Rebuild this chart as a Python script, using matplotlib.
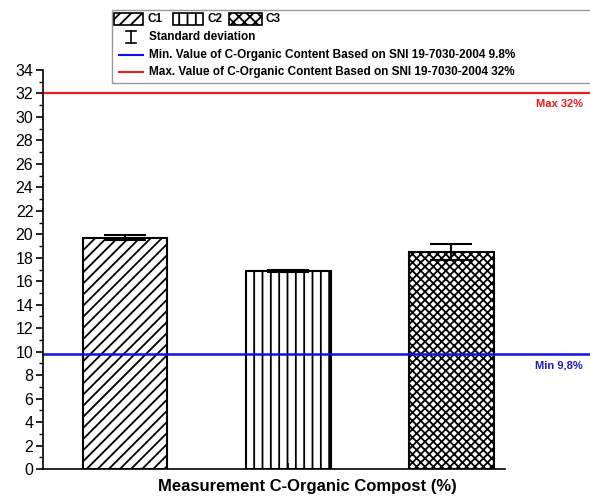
import matplotlib
matplotlib.use('Agg')
import matplotlib.pyplot as plt
from matplotlib.patches import Rectangle
from matplotlib.lines import Line2D
from matplotlib.ticker import MultipleLocator

# C-organic content of the three compost treatments (%)
labels = ['C1', 'C2', 'C3']
values = [19.7, 16.9, 18.5]
errors = [0.2, 0.1, 0.7]
hatches = ['///', '||', 'xxxx']
positions = [1, 2, 3]

# SNI 19-7030-2004 limits
sni_min = 9.8
sni_max = 32

plt.rcParams['font.family'] = 'Liberation Sans'
plt.rcParams['hatch.linewidth'] = 1.3

W, H = 590, 497
fig = plt.figure(figsize=(W / 100, H / 100), dpi=100)


def fx(px):
    return px / W


def fy(py):
    return 1 - py / H


ax = fig.add_axes([fx(43), fy(469), 462 / W, 399 / H])

for xpos, val, err, hat in zip(positions, values, errors, hatches):
    ax.bar(xpos, val, width=0.52, facecolor='white', edgecolor='black',
           hatch=hat, linewidth=1.5, yerr=err, capsize=15,
           error_kw=dict(elinewidth=1.5, capthick=1.5, ecolor='black'))

ax.set_xlim(0.497, 3.33)
ax.set_ylim(0, 34)
ax.set_yticks(range(0, 35, 2))
ax.yaxis.set_minor_locator(MultipleLocator(1))
ax.tick_params(axis='y', which='major', direction='out', length=5, width=1.2,
               labelsize=11.5, pad=2)
ax.tick_params(axis='y', which='minor', direction='out', length=3, width=1.0)
ax.set_xticks([2])
ax.set_xticklabels([''])
ax.tick_params(axis='x', direction='in', length=4, width=1.2)
for side in ['top', 'right']:
    ax.spines[side].set_visible(False)
for side in ['left', 'bottom']:
    ax.spines[side].set_linewidth(1.2)

# limit lines run past the axis to the right edge
reach = (W - 43) / 462
red = '#ee1c1c'
blue = '#1010e8'
ax.axhline(sni_max, xmin=0, xmax=reach, color=red, lw=1.6, clip_on=False)
ax.axhline(sni_min, xmin=0, xmax=reach, color=blue, lw=1.8, clip_on=False)
tx = (583 - 43) / 462
ax.text(tx, sni_max - 0.9, 'Max 32%', transform=ax.get_yaxis_transform(),
        ha='right', va='center', fontsize=8, fontweight='bold', color=red)
ax.text(tx, sni_min - 1.0, 'Min 9,8%', transform=ax.get_yaxis_transform(),
        ha='right', va='center', fontsize=8, fontweight='bold', color='#1a1acc')

fig.text(fx(307), fy(486), 'Measurement C-Organic Compost (%)', ha='center',
         va='center', fontsize=12, fontweight='bold')

# legend, drawn by hand
tf = fig.transFigure
fig.patches.append(Rectangle((fx(112), fy(83)), (620 - 112) / W, 73 / H,
                             transform=tf, fill=False, edgecolor='#999999',
                             lw=1, clip_on=False))
lfont = dict(fontsize=8.5, fontweight='bold', va='center', ha='left')
patch_x = [(114, 143), (173, 203), (229, 262)]
text_x = [148, 207, 265]
legend_hatches = ['///', '||', 'xxx']
for (x0, x1), tx0, lab, hat in zip(patch_x, text_x, labels, legend_hatches):
    fig.patches.append(Rectangle((fx(x0), fy(25)), (x1 - x0) / W, 12 / H,
                                 transform=tf, facecolor='white',
                                 edgecolor='black', hatch=hat, lw=1.2))
    fig.text(fx(tx0), fy(19), lab, **lfont)

# error bar symbol
fig.lines.append(Line2D([fx(131), fx(131)], [fy(31), fy(43)], transform=tf,
                        color='black', lw=1.2))
for yy in (31, 43):
    fig.lines.append(Line2D([fx(126), fx(136)], [fy(yy), fy(yy)],
                            transform=tf, color='black', lw=1.2))
fig.text(fx(149), fy(37), 'Standard deviation', **lfont)

fig.lines.append(Line2D([fx(119), fx(143)], [fy(55), fy(55)], transform=tf,
                        color=blue, lw=1.5))
fig.text(fx(149), fy(55),
         'Min. Value of C-Organic Content Based on SNI 19-7030-2004 9.8%',
         **lfont)
fig.lines.append(Line2D([fx(119), fx(143)], [fy(72), fy(72)], transform=tf,
                        color=red, lw=1.5))
fig.text(fx(149), fy(72),
         'Max. Value of C-Organic Content Based on SNI 19-7030-2004 32%',
         **lfont)

fig.savefig('out.png', dpi=100)
